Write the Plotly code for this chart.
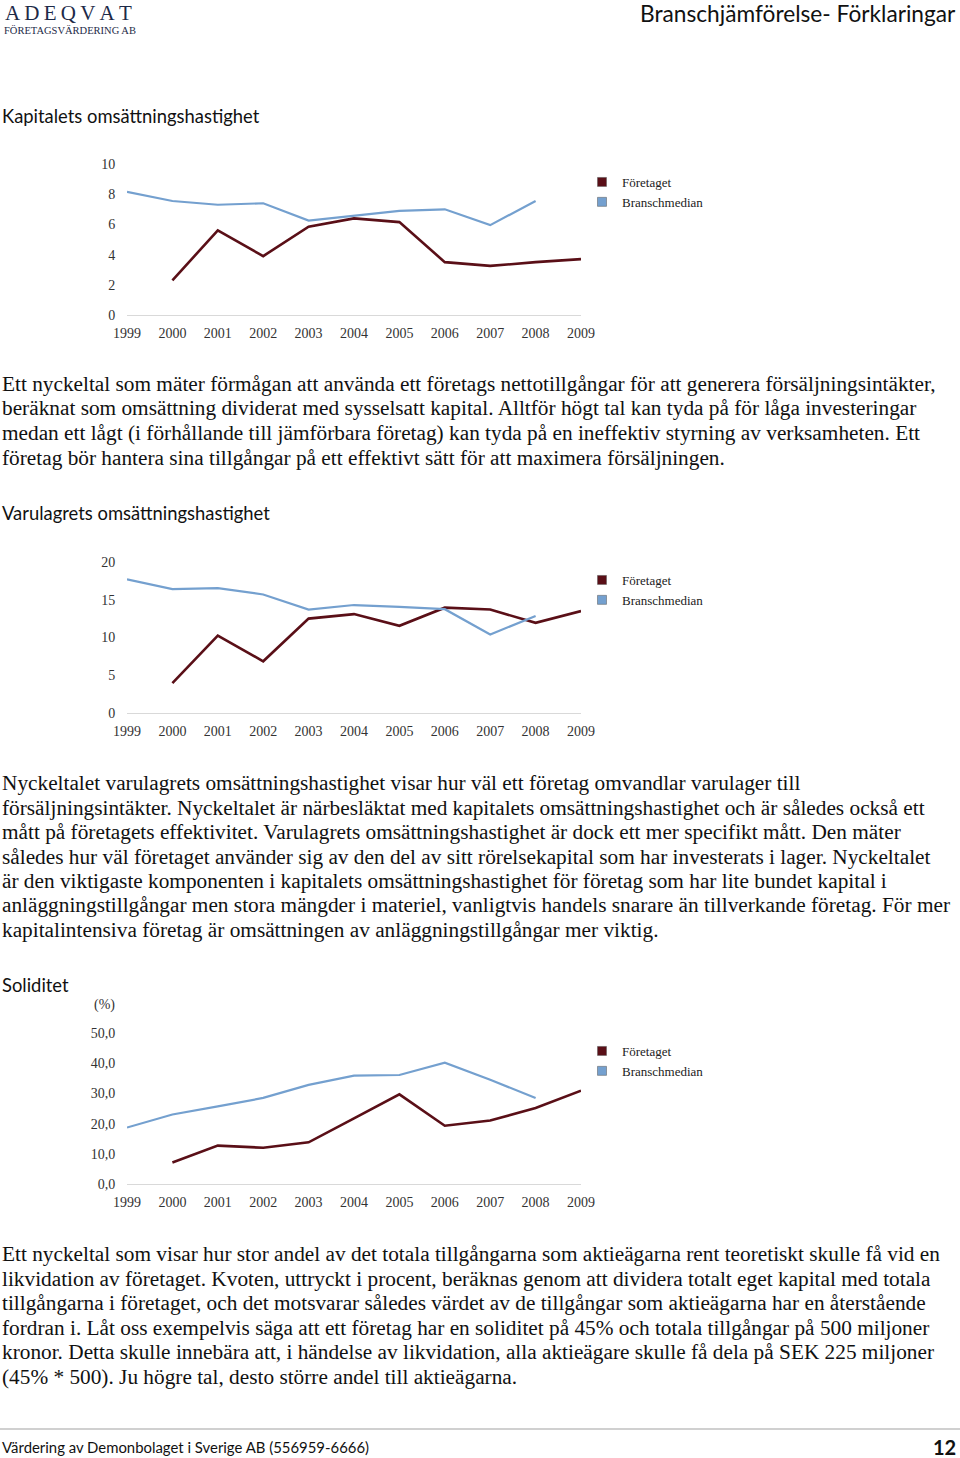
import plotly.graph_objects as go

W, H = 960, 1458

years = [1999, 2000, 2001, 2002, 2003, 2004, 2005, 2006, 2007, 2008, 2009]

# Kapitalets omsättningshastighet
kap_foretaget = [None, 2.3, 5.6, 3.9, 5.85, 6.4, 6.15, 3.5, 3.25, 3.5, 3.7]
kap_bransch = [8.15, 7.55, 7.3, 7.4, 6.25, 6.55, 6.9, 7.0, 5.95, 7.55, None]

# Varulagrets omsättningshastighet
var_foretaget = [None, 3.95, 10.25, 6.85, 12.5, 13.1, 11.55, 13.95, 13.7, 11.95, 13.5]
var_bransch = [17.7, 16.4, 16.55, 15.7, 13.7, 14.3, 14.05, 13.75, 10.4, 12.85, None]

# Soliditet (%)
sol_foretaget = [None, 7.1, 12.7, 12.0, 13.8, 21.7, 29.7, 19.3, 21.0, 25.2, 30.9]
sol_bransch = [18.7, 23.0, 25.7, 28.5, 32.8, 35.9, 36.1, 40.2, 34.5, 28.5, None]

series_names = ["Företaget", "Branschmedian"]
red = "#5a0f17"
blue = "#74a0cf"

para1 = [
    "Ett nyckeltal som mäter förmågan att använda ett företags nettotillgångar för att generera försäljningsintäkter,",
    "beräknat som omsättning dividerat med sysselsatt kapital. Alltför högt tal kan tyda på för låga investeringar",
    "medan ett lågt (i förhållande till jämförbara företag) kan tyda på en ineffektiv styrning av verksamheten. Ett",
    "företag bör hantera sina tillgångar på ett effektivt sätt för att maximera försäljningen.",
]
para2 = [
    "Nyckeltalet varulagrets omsättningshastighet visar hur väl ett företag omvandlar varulager till",
    "försäljningsintäkter. Nyckeltalet är närbesläktat med kapitalets omsättningshastighet och är således också ett",
    "mått på företagets effektivitet. Varulagrets omsättningshastighet är dock ett mer specifikt mått. Den mäter",
    "således hur väl företaget använder sig av den del av sitt rörelsekapital som har investerats i lager. Nyckeltalet",
    "är den viktigaste komponenten i kapitalets omsättningshastighet för företag som har lite bundet kapital i",
    "anläggningstillgångar men stora mängder i materiel, vanligtvis handels snarare än tillverkande företag. För mer",
    "kapitalintensiva företag är omsättningen av anläggningstillgångar mer viktig.",
]
para3 = [
    "Ett nyckeltal som visar hur stor andel av det totala tillgångarna som aktieägarna rent teoretiskt skulle få vid en",
    "likvidation av företaget. Kvoten, uttryckt i procent, beräknas genom att dividera totalt eget kapital med totala",
    "tillgångarna i företaget, och det motsvarar således värdet av de tillgångar som aktieägarna har en återstående",
    "fordran i. Låt oss exempelvis säga att ett företag har en soliditet på 45% och totala tillgångar på 500 miljoner",
    "kronor. Detta skulle innebära att, i händelse av likvidation, alla aktieägare skulle få dela på SEK 225 miljoner",
    "(45% * 500). Ju högre tal, desto större andel till aktieägarna.",
]

SERIF = "Liberation Serif, Times New Roman, serif"
SANS = "Lato, Open Sans, sans-serif"


def py(v):
    # page pixel row -> paper y
    return 1 - v / H


def px(v):
    return v / W


charts = [
    # (foretaget, bransch, y-range, dtick, tickformat, top px, bottom px)
    (kap_foretaget, kap_bransch, [0, 10], 2, "d", 164, 315),
    (var_foretaget, var_bransch, [0, 20], 5, "d", 562, 713),
    (sol_foretaget, sol_bransch, [0, 50], 10, ".1f", 1033, 1184),
]

fig = go.Figure()
layout = {}

for i, (foretaget, bransch, yrange, dtick, fmt, top, bottom) in enumerate(charts, start=1):
    sfx = "" if i == 1 else str(i)
    xa, ya = "x" + sfx, "y" + sfx
    leg = "legend" + sfx

    fig.add_trace(go.Scatter(x=years, y=foretaget, mode="lines", xaxis=xa, yaxis=ya,
                             line=dict(color=red, width=2.6), showlegend=False,
                             name=series_names[0], connectgaps=False))
    fig.add_trace(go.Scatter(x=years, y=bransch, mode="lines", xaxis=xa, yaxis=ya,
                             line=dict(color=blue, width=2.2), showlegend=False,
                             name=series_names[1], connectgaps=False))
    # legend swatches (square markers like the original)
    for name, col in zip(series_names, [red, blue]):
        fig.add_trace(go.Scatter(x=[None], y=[None], mode="markers", xaxis=xa, yaxis=ya,
                                 name=name, legend=leg,
                                 marker=dict(symbol="square", size=9, color=col,
                                             line=dict(color="#555555", width=0.5))))

    layout["xaxis" + sfx] = dict(
        domain=[px(127), px(581)], anchor=ya, range=[1999, 2009], automargin=False,
        tickmode="array", tickvals=years, ticktext=[str(y) for y in years],
        showgrid=False, zeroline=False, showline=True, linecolor="#d9d9d9", linewidth=1.2,
        ticks="outside", ticklen=5, tickcolor="rgba(0,0,0,0)",
        tickfont=dict(family=SERIF, size=14, color="#333333"), fixedrange=True,
    )
    layout["yaxis" + sfx] = dict(
        domain=[py(bottom), py(top)], anchor=xa, range=yrange, dtick=dtick, tick0=0,
        tickformat=fmt, showgrid=False, zeroline=False, showline=False, automargin=False,
        ticks="outside", ticklen=8, tickcolor="rgba(0,0,0,0)",
        tickfont=dict(family=SERIF, size=14, color="#333333"), fixedrange=True,
    )
    layout[leg] = dict(
        x=px(582), y=py(top + 3), xanchor="left", yanchor="top",
        bgcolor="rgba(0,0,0,0)", font=dict(family=SERIF, size=13, color="#222222"),
        itemwidth=30, tracegroupgap=0,
    )

annotations = []


def text(x, y, s, size, family, color="#111111", xanchor="left", yanchor="middle"):
    annotations.append(dict(x=px(x), y=py(y), xref="paper", yref="paper", text=s,
                            showarrow=False, xanchor=xanchor, yanchor=yanchor, align="left",
                            font=dict(family=family, size=size, color=color)))


# header (logo letters spaced with thin spaces)
text(3, 13, "\u2009".join("ADEQVAT"), 21, SERIF, color="#1d2a48")
text(2, 30, "FÖRETAGSVÄRDERING AB", 10.5, SERIF, color="#1d2a48")
text(958, 13, "Branschjämförelse- Förklaringar", 22.7, SANS, color="#111111", xanchor="right")

# section headings
text(0, 116, "Kapitalets omsättningshastighet", 18.4, SANS)
text(0, 513, "Varulagrets omsättningshastighet", 18.4, SANS)
text(0, 985, "Soliditet", 18.4, SANS)

# body paragraphs
for lines, first in [(para1, 384), (para2, 783), (para3, 1254)]:
    for k, line in enumerate(lines):
        text(0, first + k * 24.5, line, 21.3, SERIF)

text(92, 1005, "(%)", 14, SERIF, color="#333333")

# footer
text(0, 1447, "Värdering av Demonbolaget i Sverige AB (556959-6666)", 14.9, SANS)
text(958, 1447, "<b>12</b>", 20, SANS, xanchor="right")

shapes = [dict(type="line", xref="paper", yref="paper", x0=0, x1=1,
               y0=py(1429), y1=py(1429), line=dict(color="#d0d0d0", width=2))]

fig.update_layout(
    width=W, height=H, margin=dict(l=0, r=0, t=0, b=0, pad=0, autoexpand=False),
    paper_bgcolor="white", plot_bgcolor="white",
    separators=", ", annotations=annotations, shapes=shapes,
    **layout,
)

# page body has a default 8px margin; drop it so the figure sits at the window corner
fig.write_html("out.html", config={"displayModeBar": False},
               post_script="document.body.style.margin='0';document.body.style.overflow='hidden';")
